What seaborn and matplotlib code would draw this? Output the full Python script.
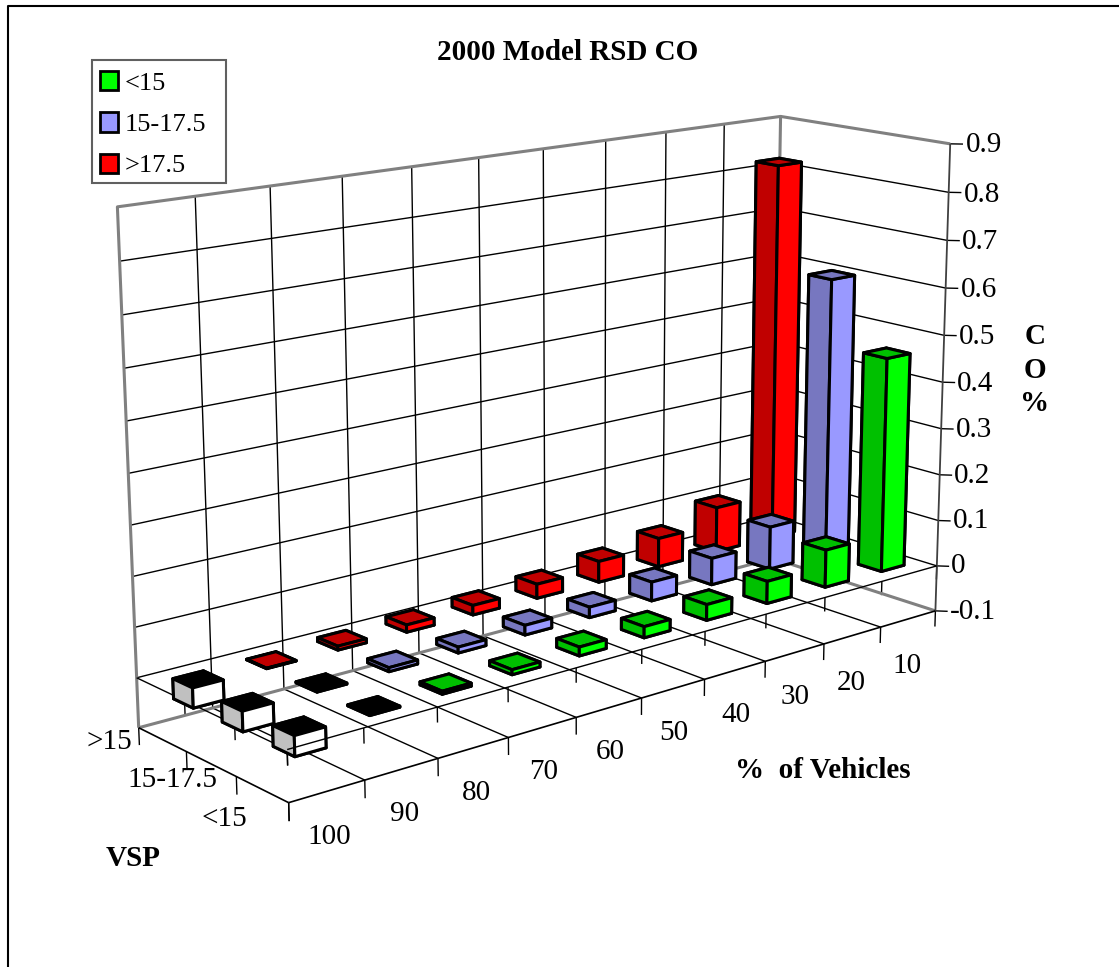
import matplotlib
matplotlib.use('Agg')
import matplotlib.pyplot as plt
from matplotlib.patches import Patch, Rectangle
from matplotlib.lines import Line2D
import seaborn as sns

# values
pct_labels = ['100', '90', '80', '70', '60', '50', '40', '30', '20', '10']
vsp_labels = ['<15', '15-17.5', '>15']
legend_labels = ['<15', '15-17.5', '>17.5']
co_low = [-0.04, -0.002, 0.006, 0.01, 0.018, 0.023, 0.033, 0.047, 0.08, 0.46]
co_mid = [-0.04, -0.002, 0.008, 0.012, 0.02, 0.022, 0.04, 0.057, 0.092, 0.6]
co_high = [-0.04, 0.001, 0.008, 0.015, 0.02, 0.03, 0.045, 0.062, 0.098, 0.82]
z_ticks = [-0.1, 0, 0.1, 0.2, 0.3, 0.4, 0.5, 0.6, 0.7, 0.8, 0.9]

sns.set_theme(style='white')
plt.rcParams['font.family'] = ['Liberation Serif', 'DejaVu Serif']
plt.rcParams['text.color'] = 'black'

bright_colors = sns.color_palette(['#00ff00', '#9999ff', '#ff0000'])
dark_colors = sns.color_palette(['#00c000', '#7777c0', '#c00000'])

W, H = 1119, 967
fig = plt.figure(figsize=(W / 100, H / 100), dpi=100, facecolor='white')
ax = fig.add_axes([50.3 / W, 32.9 / H, 991.2 / W, 991.2 / H], projection='3d')

# camera that matches the Excel perspective
ax.view_init(14.588, -130.012, 0.132)
ax.set_box_aspect((1.6689, 0.4942, 1))
ax.set_proj_type('persp', focal_length=0.5453)
ax.set_axis_off()
ax.computed_zorder = False
ax.patch.set_alpha(0)

GREY = '#808080'


def line(xs, ys, zs, color='black', lw=1.0, z=1):
    ax.plot(xs, ys, zs, color=color, lw=lw, zorder=z, solid_capstyle='butt')


# walls and floor
for zt in z_ticks[1:-1]:
    line([0, 10], [3, 3], [zt, zt])
    line([10, 10], [3, 0], [zt, zt])
for xt in range(1, 10):
    line([xt, xt], [3, 3], [-0.1, 0.9])
    line([xt, xt], [3, 0], [-0.1, -0.1])
line([0, 10, 10, 0, 0], [3, 3, 3, 3, 3], [-0.1, -0.1, 0.9, 0.9, -0.1], GREY, 2.2, 2)
line([10, 10], [3, 0], [0.9, 0.9], GREY, 2.2, 2)
line([10, 10], [3, 0], [-0.1, -0.1], GREY, 2.2, 2)
line([10, 10], [0, 0], [-0.1, 0.9], '#404040', 1.3, 2)
line([0, 10], [0, 0], [-0.1, -0.1], 'black', 1.2, 2)
line([0, 0], [0, 3], [-0.1, -0.1], 'black', 1.2, 2)
line([0, 0], [0, 3], [0, 0], 'black', 1.0, 2)
line([0, 10], [0, 0], [0, 0], 'black', 1.0, 60)

# ticks
for xt in range(0, 11):
    line([xt, xt], [0, 0], [-0.1, -0.135])
    line([xt, xt], [0, 0], [0, -0.03])
for yt in range(0, 4):
    line([0, 0], [yt, yt], [-0.1, -0.135])
    line([0, 0], [yt, yt], [0, -0.03])
for zt in z_ticks:
    line([10, 10.105], [0, -0.115], [zt, zt])

# bars, back row first
bar_w = 0.41
rows = [(2, co_high), (1, co_mid), (0, co_low)]
order = 10
for j, vals in rows:
    for i in range(len(pct_labels) - 1, -1, -1):
        v = vals[i]
        if v < 0:
            faces = ['black', 'black', 'white', 'white', '#c0c0c0', '#c0c0c0']
        else:
            dark, bright = dark_colors[j], bright_colors[j]
            faces = [dark, dark, bright, bright, dark, dark]
        order += 1
        ax.bar3d(i + 0.5 - bar_w / 2, j + 0.5 - bar_w / 2, min(v, 0), bar_w, bar_w, abs(v),
                 color=faces, edgecolor='black', linewidth=2.2, shade=False, zorder=order)
ax.set_xlim(0, 10)
ax.set_ylim(0, 3)
ax.set_zlim(-0.1, 0.9)


def px_text(x, y, s, **kw):
    kw.setdefault('fontsize', 21)
    kw.setdefault('ha', 'center')
    fig.text(x / W, 1 - y / H, s, va='center', **kw)


pct_pos = [(329, 837), (405, 814), (476, 793), (544, 772), (610, 752),
           (674, 733), (736, 715), (795, 697), (851, 683), (907, 666)]
for lab, (x, y) in zip(pct_labels, pct_pos):
    px_text(x, y, lab)
vsp_pos = [(224, 819), (172, 780), (109, 742)]
for lab, (x, y) in zip(vsp_labels, vsp_pos):
    px_text(x, y, lab)
z_label_x = [950, 951, 953, 954, 956, 957, 959, 961, 962, 964, 966]
z_label_y = [612, 566, 521, 476, 430, 384, 337, 290, 242, 195, 145]
for zt, x, y in zip(z_ticks, z_label_x, z_label_y):
    px_text(x, y, f'{zt:g}', ha='left')

px_text(568, 53, '2000 Model RSD CO', fontweight='bold')
px_text(823, 771, '%  of Vehicles', fontweight='bold')
px_text(133, 858, 'VSP', fontweight='bold')
px_text(1035, 370, 'C\nO\n%', fontweight='bold', linespacing=1.3)

# legend box and entries
fig.add_artist(Rectangle((92 / W, 1 - 183 / H), 134 / W, 123 / H, facecolor='white',
                         edgecolor='#606060', linewidth=1.5, transform=fig.transFigure, zorder=5))
handles = [Patch(facecolor=c, edgecolor='black', linewidth=2) for c in bright_colors]
leg = fig.legend(handles, legend_labels, loc='upper left', bbox_to_anchor=(100 / W, 1 - 71 / H),
                 fontsize=19, frameon=False, handlelength=0.68, handleheight=0.75,
                 handletextpad=0.26, labelspacing=0.66, borderpad=0, borderaxespad=0)
leg.set_zorder(6)

# chart border: left and top edges only inside the crop
fig.add_artist(Line2D([7.5 / W, 7.5 / W, 1], [0, 1 - 5.5 / H, 1 - 5.5 / H], color='black',
                      lw=1.5, transform=fig.transFigure))

fig.savefig('out.png', dpi=100)
